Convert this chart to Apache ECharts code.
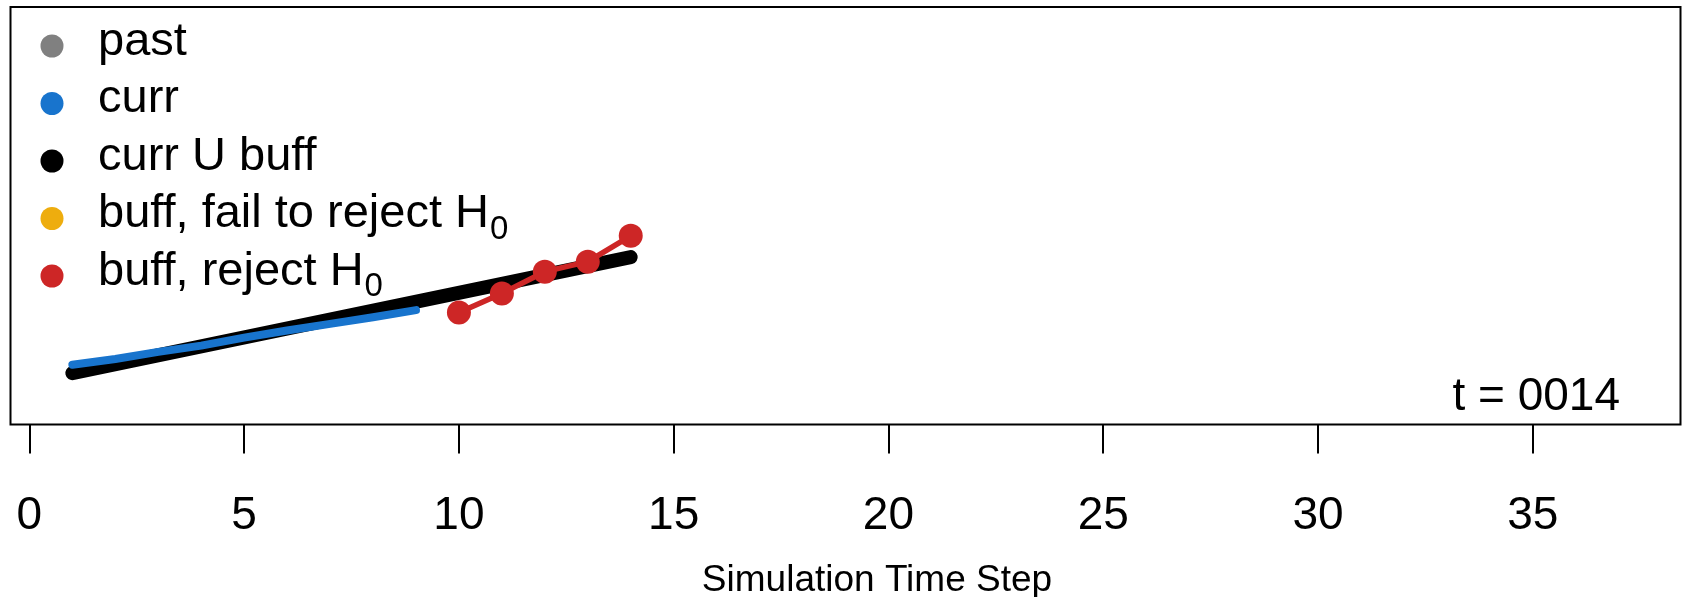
<!DOCTYPE html>
<html>
<head>
<meta charset="utf-8">
<script src="https://cdn.jsdelivr.net/npm/echarts@6/dist/echarts.min.js"></script>
<style>
html,body{margin:0;padding:0;background:#fff;}
#chart{width:1683px;height:597px;}
</style>
</head>
<body>
<div id="chart"></div>
<script>
// ---- data ----
const seriesNames = ['past', 'curr', 'curr U buff', 'buff, fail to reject H0', 'buff, reject H0'];
const xTicks = [0, 5, 10, 15, 20, 25, 30, 35];
const pastX = [];
const pastY = [];
const currX = [1, 2, 3, 4, 5, 6, 7, 8, 9];
const currY = [14.3, 15.7, 17.4, 18.9, 20.8, 22.5, 24.1, 25.7, 27.4];
const unionX = [1, 14];
const unionY = [12.3, 40.1];
const failX = [];
const failY = [];
const rejectX = [10, 11, 12, 13, 14];
const rejectY = [26.8, 31.4, 36.6, 39.0, 45.2];
const timeLabel = 't = 0014';
const xTitle = 'Simulation Time Step';

const pair = (xs, ys) => xs.map((x, i) => [x, ys[i]]);
const FONT = '"Liberation Sans", Arial, Helvetica, sans-serif';
const colors = ['#808080', '#1874CD', '#000000', '#EEAD0E', '#CD2626'];

const chart = echarts.init(document.getElementById('chart'), null, {renderer: 'canvas'});
chart.setOption({
  animation: false,
  backgroundColor: '#ffffff',
  textStyle: {fontFamily: FONT},
  grid: {
    left: 10.5, right: 2.5, top: 7, bottom: 172.5,
    containLabel: false, outerBoundsMode: 'none',
    show: true, borderColor: '#000', borderWidth: 2, backgroundColor: 'transparent'
  },
  title: {
    text: timeLabel, right: 63, top: 374, padding: 0,
    textStyle: {fontFamily: FONT, fontSize: 46, fontWeight: 'normal', color: '#000'}
  },
  legend: {
    orient: 'vertical', left: 40.5, top: 18.5, padding: 0,
    itemWidth: 23, itemHeight: 23, itemGap: 2.5,
    icon: 'circle',
    data: seriesNames.map((n, i) => ({name: n, icon: 'circle', itemStyle: {color: colors[i]}})),
    formatter: function (name) {
      if (name.endsWith('H0')) {
        return '{n|' + name.slice(0, -1) + '}{s|0}';
      }
      return '{n|' + name + '}';
    },
    textStyle: {
      fontFamily: FONT, fontSize: 47, color: '#000', lineHeight: 50,
      rich: {
        n: {fontFamily: FONT, fontSize: 47, color: '#000', lineHeight: 50, padding: [0, 0, 8, 29.5]},
        s: {fontFamily: FONT, fontSize: 33, color: '#000', lineHeight: 50, padding: [0, 0, -22, 1]}
      }
    }
  },
  xAxis: {
    type: 'value', min: -0.44, max: 38.44,
    splitLine: {show: false},
    axisLine: {show: false},
    axisTick: {show: true, customValues: xTicks, length: 29, inside: false, lineStyle: {color: '#000', width: 2}},
    axisLabel: {show: true, customValues: xTicks, fontFamily: FONT, fontSize: 46, color: '#000', margin: 69},
    name: xTitle, nameLocation: 'middle', nameGap: 137.5,
    nameTextStyle: {fontFamily: FONT, fontSize: 37, color: '#000', padding: [0, 0, 0, 63]}
  },
  yAxis: {
    type: 'value', min: 0, max: 100, show: false, splitLine: {show: false}
  },
  series: [
    {name: seriesNames[0], type: 'line', data: pair(pastX, pastY), color: colors[0], showSymbol: false},
    {name: seriesNames[2], type: 'line', data: pair(unionX, unionY), color: colors[2], z: 2,
      showSymbol: false, symbol: 'none',
      lineStyle: {color: colors[2], width: 14, cap: 'round', join: 'round'}},
    {name: seriesNames[1], type: 'line', data: pair(currX, currY), color: colors[1], z: 3,
      showSymbol: false, symbol: 'none',
      lineStyle: {color: colors[1], width: 8, cap: 'round', join: 'round'}},
    {name: seriesNames[3], type: 'line', data: pair(failX, failY), color: colors[3], showSymbol: false},
    {name: seriesNames[4], type: 'line', data: pair(rejectX, rejectY), color: colors[4], z: 4,
      symbol: 'circle', symbolSize: 24, showSymbol: true,
      itemStyle: {color: colors[4]},
      lineStyle: {color: colors[4], width: 5.5}}
  ]
});
</script>
</body>
</html>
